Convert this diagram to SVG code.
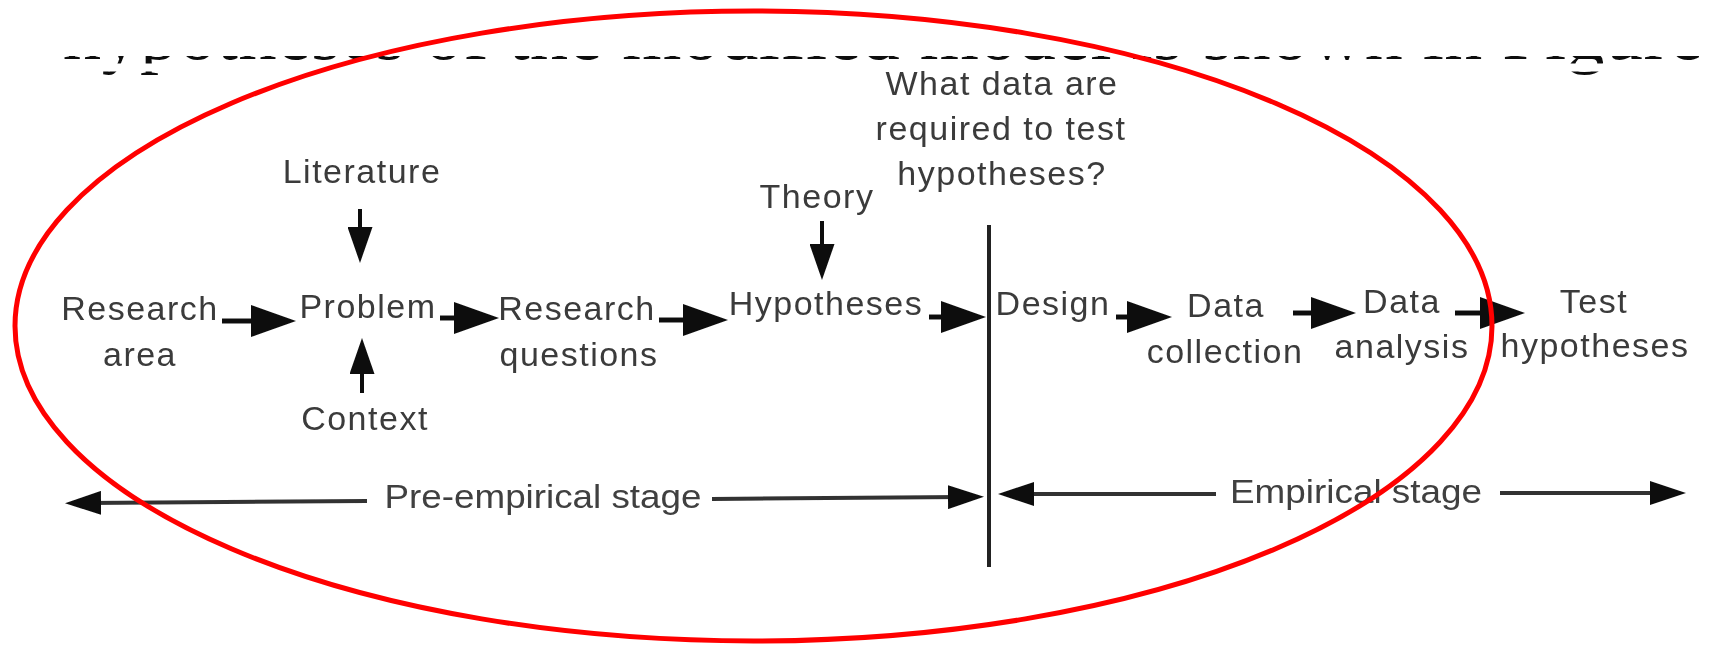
<svg xmlns="http://www.w3.org/2000/svg" width="1712" height="645" viewBox="0 0 1712 645">
  <style>
    .lbl { font-family: "Liberation Sans", Arial, sans-serif; font-size: 34px; letter-spacing: 1.5px; fill: #3a3a3a; text-anchor: middle; }
    .stage { font-family: "Liberation Sans", Arial, sans-serif; font-size: 34px; fill: #404040; text-anchor: middle; }
    .flow { stroke: #111; stroke-width: 5; fill: none; }
    .feed { stroke: #111; stroke-width: 4; fill: none; }
    .span { stroke: #333; stroke-width: 4; fill: none; }
    .divider { stroke: #222; stroke-width: 4; }
    .head { fill: #111; }
    .soft { filter: url(#soft); }
  </style>
  <defs>
    <filter id="soft" x="-5%" y="-5%" width="110%" height="110%">
      <feGaussianBlur stdDeviation="0.7"/>
    </filter>
    <!-- large head for the main process chain -->
    <marker id="arrow-main" viewBox="0 0 45 32" refX="15" refY="16" markerWidth="45" markerHeight="32" markerUnits="userSpaceOnUse" orient="auto">
      <path class="head" d="M0,0 L45,16 L0,32 Z"/>
    </marker>
    <!-- smaller head for the vertical inputs -->
    <marker id="arrow-feed" viewBox="0 0 36 25" refX="14" refY="12.5" markerWidth="36" markerHeight="25" markerUnits="userSpaceOnUse" orient="auto">
      <path class="head" d="M0,0 L36,12.5 L0,25 Z"/>
    </marker>
    <!-- head for the stage span arrows -->
    <marker id="arrow-span" viewBox="0 0 36 24" refX="14" refY="12" markerWidth="36" markerHeight="24" markerUnits="userSpaceOnUse" orient="auto">
      <path class="head" d="M0,0 L36,12 L0,24 Z"/>
    </marker>
  </defs>

  <rect width="1712" height="645" fill="#ffffff"/>

  <!-- running text of the page; the sheet is trimmed at its baseline, so only serif feet remain -->
  <g id="page-text">
    <text class="soft" x="63" y="59" font-family="Liberation Serif, Times New Roman, serif" font-size="76" fill="#111" textLength="1640" lengthAdjust="spacing">hypotheses of the modified model is shown in Figure</text>
    <rect x="0" y="0" width="1712" height="56" fill="#ffffff"/>
    <rect x="0" y="63.5" width="1712" height="8" fill="#ffffff"/>
  </g>

  <!-- connectors -->
  <g id="connectors" class="soft">
    <!-- main chain -->
    <line class="flow" x1="222" y1="321" x2="266" y2="321" marker-end="url(#arrow-main)"/>
    <line class="flow" x1="440" y1="318" x2="469" y2="318" marker-end="url(#arrow-main)"/>
    <line class="flow" x1="659" y1="320" x2="698" y2="320" marker-end="url(#arrow-main)"/>
    <line class="flow" x1="929" y1="317" x2="956" y2="317" marker-end="url(#arrow-main)"/>
    <line class="flow" x1="1116" y1="317" x2="1142" y2="317" marker-end="url(#arrow-main)"/>
    <line class="flow" x1="1293" y1="313" x2="1326" y2="313" marker-end="url(#arrow-main)"/>
    <line class="flow" x1="1455" y1="313" x2="1495" y2="313" marker-end="url(#arrow-main)"/>
    <!-- inputs -->
    <line class="feed" x1="360" y1="209" x2="360" y2="241" marker-end="url(#arrow-feed)"/>
    <line class="feed" x1="822" y1="221" x2="822" y2="258" marker-end="url(#arrow-feed)"/>
    <line class="feed" x1="362" y1="393" x2="362" y2="360" marker-end="url(#arrow-feed)"/>
    <!-- stage divider -->
    <line class="divider" x1="989" y1="225" x2="989" y2="567"/>
    <!-- stage spans -->
    <line class="span" x1="367" y1="501" x2="87" y2="503" marker-end="url(#arrow-span)"/>
    <line class="span" x1="712" y1="499" x2="962" y2="497" marker-end="url(#arrow-span)"/>
    <line class="span" x1="1216" y1="494" x2="1020" y2="494" marker-end="url(#arrow-span)"/>
    <line class="span" x1="1500" y1="493" x2="1664" y2="493" marker-end="url(#arrow-span)"/>
  </g>

  <!-- nodes -->
  <g class="soft">
    <g id="research-area">
      <text class="lbl" x="140" y="320">Research</text>
      <text class="lbl" x="140" y="366">area</text>
    </g>
    <g id="literature">
      <text class="lbl" x="362" y="183">Literature</text>
    </g>
    <g id="problem">
      <text class="lbl" x="368" y="318">Problem</text>
    </g>
    <g id="context">
      <text class="lbl" x="365" y="430">Context</text>
    </g>
    <g id="research-questions">
      <text class="lbl" x="577" y="320">Research</text>
      <text class="lbl" x="579" y="366">questions</text>
    </g>
    <g id="theory">
      <text class="lbl" x="817" y="208">Theory</text>
    </g>
    <g id="hypotheses">
      <text class="lbl" x="826" y="315">Hypotheses</text>
    </g>
    <g id="data-question">
      <text class="lbl" x="1002" y="95">What data are</text>
      <text class="lbl" x="1001" y="140">required to test</text>
      <text class="lbl" x="1002" y="185">hypotheses?</text>
    </g>
    <g id="design">
      <text class="lbl" x="1053" y="315">Design</text>
    </g>
    <g id="data-collection">
      <text class="lbl" x="1226" y="317">Data</text>
      <text class="lbl" x="1225" y="363">collection</text>
    </g>
    <g id="data-analysis">
      <text class="lbl" x="1402" y="313">Data</text>
      <text class="lbl" x="1402" y="358">analysis</text>
    </g>
    <g id="test-hypotheses">
      <text class="lbl" x="1594" y="313">Test</text>
      <text class="lbl" x="1595" y="357">hypotheses</text>
    </g>
    <g id="pre-empirical-stage">
      <text class="stage" x="543" y="508" textLength="317" lengthAdjust="spacingAndGlyphs">Pre-empirical stage</text>
    </g>
    <g id="empirical-stage">
      <text class="stage" x="1356" y="503" textLength="252" lengthAdjust="spacingAndGlyphs">Empirical stage</text>
    </g>
  </g>

  <!-- highlight ring -->
  <ellipse id="highlight" cx="753.5" cy="326" rx="738.5" ry="315" fill="none" stroke="#ff0000" stroke-width="5"/>
</svg>
